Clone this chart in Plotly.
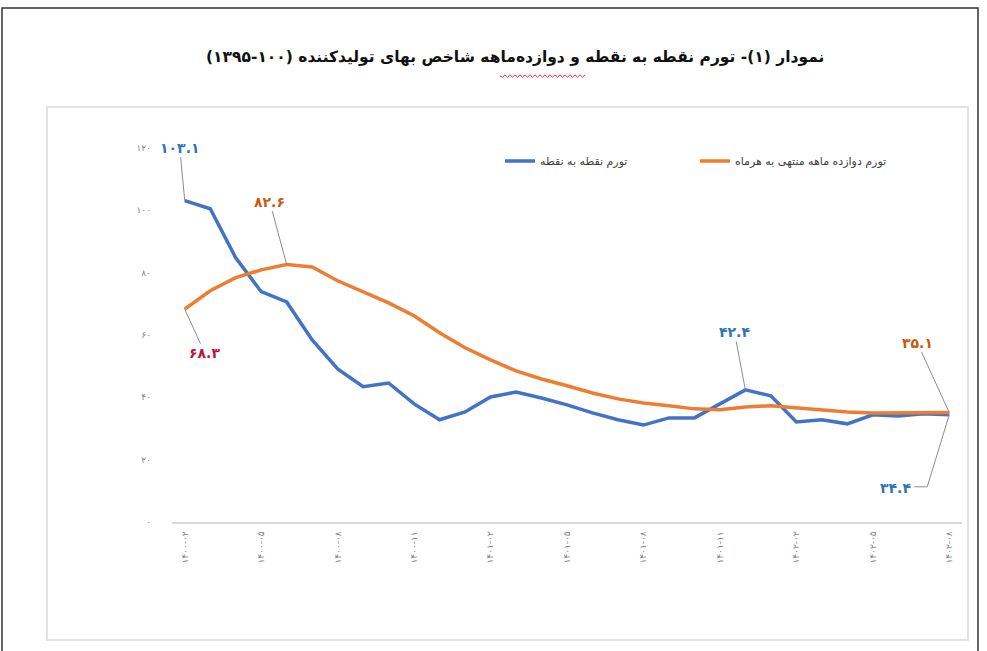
import plotly.graph_objects as go

# ---------------- data ----------------
months = [
    "۱۴۰۰-۰۲", "۱۴۰۰-۰۳", "۱۴۰۰-۰۴", "۱۴۰۰-۰۵", "۱۴۰۰-۰۶", "۱۴۰۰-۰۷", "۱۴۰۰-۰۸",
    "۱۴۰۰-۰۹", "۱۴۰۰-۱۰", "۱۴۰۰-۱۱", "۱۴۰۰-۱۲", "۱۴۰۱-۰۱", "۱۴۰۱-۰۲", "۱۴۰۱-۰۳",
    "۱۴۰۱-۰۴", "۱۴۰۱-۰۵", "۱۴۰۱-۰۶", "۱۴۰۱-۰۷", "۱۴۰۱-۰۸", "۱۴۰۱-۰۹", "۱۴۰۱-۱۰",
    "۱۴۰۱-۱۱", "۱۴۰۱-۱۲", "۱۴۰۲-۰۱", "۱۴۰۲-۰۲", "۱۴۰۲-۰۳", "۱۴۰۲-۰۴", "۱۴۰۲-۰۵",
    "۱۴۰۲-۰۶", "۱۴۰۲-۰۷", "۱۴۰۲-۰۸",
]
point_to_point = [
    103.1, 100.5, 84.8, 73.9, 70.6, 58.4, 49.1, 43.4, 44.6, 37.9, 32.8, 35.3,
    40.1, 41.7, 39.8, 37.6, 35.0, 32.8, 31.1, 33.4, 33.4, 37.9, 42.4, 40.5,
    32.1, 32.8, 31.5, 34.4, 34.0, 34.7, 34.4,
]
twelve_month = [
    68.3, 74.2, 78.4, 80.9, 82.6, 81.8, 77.4, 73.9, 70.3, 66.2, 60.7, 55.9,
    52.0, 48.5, 45.9, 43.7, 41.4, 39.5, 38.2, 37.3, 36.3, 36.0, 36.9, 37.3,
    36.6, 36.0, 35.3, 35.0, 35.0, 35.0, 35.1,
]
y_ticks = [0, 20, 40, 60, 80, 100, 120]
y_tick_labels = ["۰", "۲۰", "۴۰", "۶۰", "۸۰", "۱۰۰", "۱۲۰"]
name_ptp = "تورم نقطه به نقطه"
name_12m = "تورم دوازده ماهه منتهی به هرماه"
title_text = "\u200fنمودار (۱)- تورم نقطه به نقطه و دوازده‌ماهه شاخص بهای تولیدکننده (۱۰۰-۱۳۹۵)\u200f"

# ---------------- styling ----------------
BLUE = "#4472C4"
ORANGE = "#ED7D31"
LBL_BLUE = "#2E75B6"
LBL_ORANGE = "#C55A11"
LBL_RED = "#C0143C"
LEADER = "#8C8C8C"
FONT = "DejaVu Sans"

W, H = 987, 651
L, R, T, B = 172, 25, 148, 129
PW, PH = W - L - R, H - T - B

def px(x):
    return (x - L) / PW

def py(y):
    return (H - B - y) / PH

x_idx = list(range(len(months)))

fig = go.Figure()
fig.add_trace(go.Scatter(
    x=x_idx, y=point_to_point, name=name_ptp, mode="lines",
    line=dict(color=BLUE, width=3.5), hoverinfo="skip",
))
fig.add_trace(go.Scatter(
    x=x_idx, y=twelve_month, name=name_12m, mode="lines",
    line=dict(color=ORANGE, width=3.5), hoverinfo="skip",
))

def fmt(v):
    s = f"{v:.1f}"
    return s.translate(str.maketrans("0123456789", "۰۱۲۳۴۵۶۷۸۹"))

annos = []
def label(i, series, color, ax, ay, arrow=True):
    annos.append(dict(
        x=x_idx[i], y=series[i], xref="x", yref="y", text="<b>" + fmt(series[i]) + "</b>",
        showarrow=True, arrowhead=0, arrowwidth=1,
        arrowcolor=LEADER if arrow else "rgba(0,0,0,0)",
        ax=ax, ay=ay, standoff=0, font=dict(family=FONT, size=14, color=color),
    ))

last = len(months) - 1
label(0, point_to_point, LBL_BLUE, -5, -53)
label(4, twelve_month, LBL_ORANGE, -17, -63)
label(0, twelve_month, LBL_RED, 20, 44)
label(22, point_to_point, LBL_BLUE, -11, -58)
label(last, twelve_month, LBL_ORANGE, -32, -70)
label(last, point_to_point, LBL_BLUE, -54, 73, arrow=False)

shapes = [
    # outer page frame
    dict(type="rect", xref="paper", yref="paper", x0=px(2), x1=px(978), y0=py(8), y1=py(700),
         line=dict(color="#333333", width=1.5), layer="below"),
    # inner chart box
    dict(type="rect", xref="paper", yref="paper", x0=px(47), x1=px(968), y0=py(107), y1=py(640),
         line=dict(color="#D9D9D9", width=1.5), layer="below"),
    # elbow leader for the last point-to-point label
    dict(type="path", xref="x", yref="y", xsizemode="pixel", ysizemode="pixel",
         xanchor=x_idx[last], yanchor=point_to_point[last],
         path="M0,0 L-22,-72 L-35,-72", line=dict(color=LEADER, width=1)),
]

# red wavy spell-check underline in the title
wave = "M%f,%f" % (px(500), py(76))
xx = 500
k = 0
while xx < 585:
    xx += 2.5
    k += 1
    wave += " L%f,%f" % (px(xx), py(76 + (1.2 if k % 2 else -1.2)))
shapes.append(dict(type="path", xref="paper", yref="paper", path=wave,
                   line=dict(color="#E0303A", width=1)))

fig.update_layout(
    width=W, height=H, autosize=False,
    margin=dict(l=L, r=R, t=T, b=B),
    paper_bgcolor="white", plot_bgcolor="white",
    font=dict(family=FONT, color="#404040"),
    title=dict(text="<b>" + title_text + "</b>", x=0.522, xref="container", xanchor="center",
               y=1 - 57 / H, yref="container", yanchor="middle",
               font=dict(family=FONT, size=15.5, color="#111111")),
    showlegend=True,
    legend=dict(orientation="h", x=px(500), xanchor="left", y=py(161), yanchor="middle",
                font=dict(family=FONT, size=11, color="#404040"),
                bgcolor="rgba(0,0,0,0)", entrywidth=150, entrywidthmode="pixels"),
    xaxis=dict(
        range=[-0.5, last + 0.5], tickmode="array",
        tickvals=x_idx[::3], ticktext=months[::3], tickangle=-90,
        showgrid=False, zeroline=False, showline=True, linecolor="#D9D9D9", linewidth=1.5,
        ticks="", ticklabelstandoff=4,
        tickfont=dict(family=FONT, size=9, color="#7F7F7F"),
    ),
    yaxis=dict(
        range=[0, 120], tickmode="array", tickvals=y_ticks, ticktext=y_tick_labels,
        showgrid=False, zeroline=False, showline=False, ticks="",
        ticklabelstandoff=20,
        tickfont=dict(family=FONT, size=9, color="#7F7F7F"),
    ),
    annotations=annos,
    shapes=shapes,
)

fig.write_html(
    "out.html",
    config={"displayModeBar": False},
    post_script="document.body.style.margin='0';document.body.style.padding='0';"
                "document.body.style.overflow='hidden';",
)
